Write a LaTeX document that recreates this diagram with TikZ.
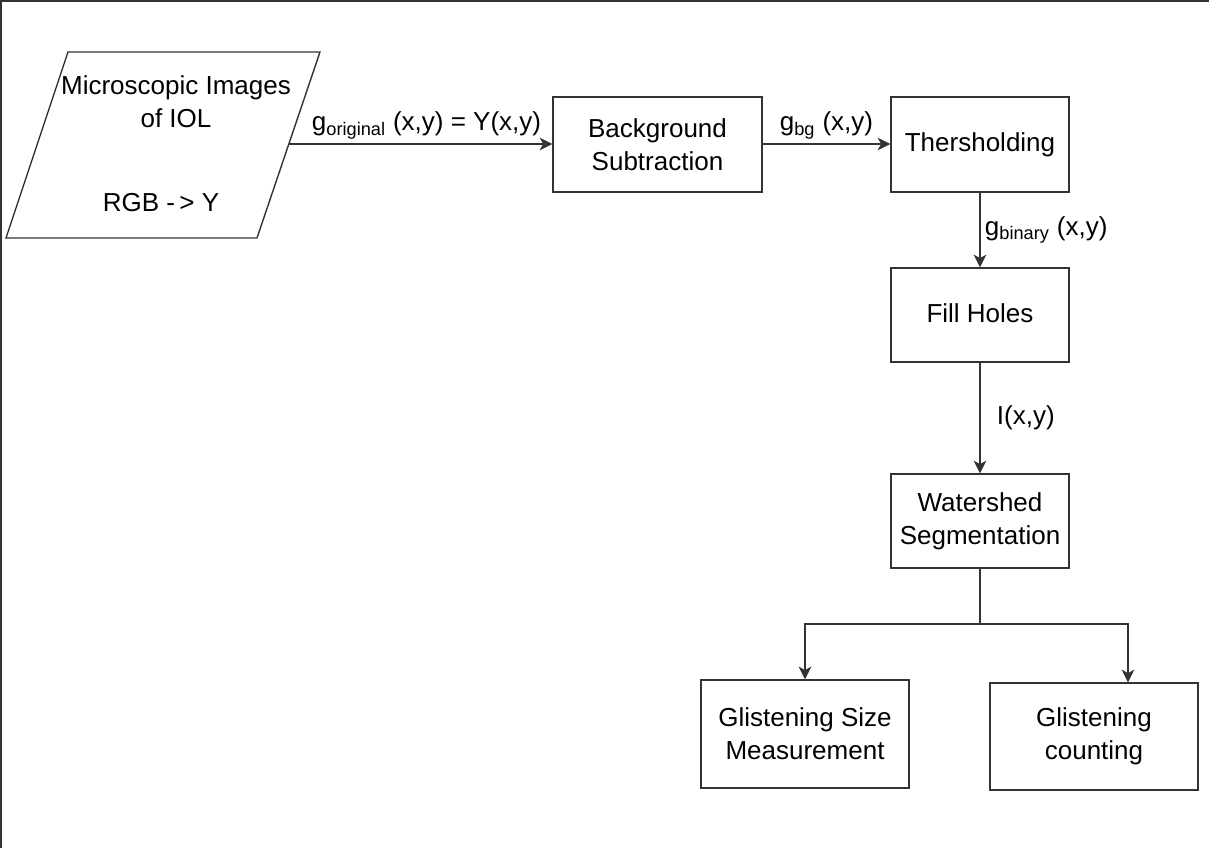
\documentclass[tikz,border=0pt]{standalone}
\usepackage{fontspec}
\setmainfont{Liberation Sans}
\usetikzlibrary{arrows.meta}
\begin{document}
\begin{tikzpicture}[
  font=\fontsize{18.5}{23.5}\selectfont,
  line width=1pt,
  box/.style={draw=black!80, align=center, inner sep=0pt},
  lbl/.style={inner sep=3pt},
  arr/.style={draw=black!80, -{Stealth[length=9pt,width=9pt,inset=2.5pt]}},
  ln/.style={draw=black!80},
]
\useasboundingbox (0,0) rectangle (30.225,21.2);
% frame lines along the top and left edge
\draw[ln, line width=1.4pt] (0.02,0) -- (0.02,21.18) -- (30.225,21.18);

% input
\draw[ln] (1.7,19.9) -- (8.0,19.9) -- (6.425,15.25) -- (0.15,15.25) -- cycle;
\node[align=center] (img) at (4.4,18.66) {Microscopic Images\\of IOL};
\node (rgb) at (4.025,16.125) {RGB {-}\,{>} Y};
\coordinate (imgout) at (7.22,17.6);

% processing steps
\node[box, minimum width=5.225cm, minimum height=2.375cm] (bg) at (16.4375,17.5875) {Background\\Subtraction};
\node[box, minimum width=4.45cm, minimum height=2.375cm] (thr) at (24.5,17.5875) {Thersholding};
\node[box, minimum width=4.45cm, minimum height=2.35cm] (fill) at (24.5,13.325) {\raisebox{3pt}{Fill Holes}};
\node[box, minimum width=4.45cm, minimum height=2.35cm] (wat) at (24.5,8.175) {Watershed\\Segmentation};
\node[box, minimum width=5.2cm, minimum height=2.7cm] (size) at (20.125,2.85) {Glistening Size\\Measurement};
\node[box, minimum width=5.2cm, minimum height=2.675cm] (cnt) at (27.35,2.7875) {Glistening\\counting};

\draw[arr] (imgout) -- (imgout -| bg.west) node[lbl, above, midway, xshift=0.15cm] {g\textsubscript{original} (x,y) = Y(x,y)};
\draw[arr] (bg.east |- imgout) -- (imgout -| thr.west) node[lbl, above, midway] {g\textsubscript{bg} (x,y)};
\draw[arr] (thr) -- (fill) node[lbl, right, midway] {g\textsubscript{binary} (x,y)};
\draw[arr] (fill) -- (wat) node[lbl, right, midway, xshift=0.3cm] {I(x,y)};

% split to the two measurements
\coordinate (fork) at (24.5,5.6);
\draw[ln] (wat.south) -- (fork);
\draw[arr] (fork) -| (size.north);
\draw[arr] (fork) -| ([xshift=0.85cm]cnt.north);
\end{tikzpicture}
\end{document}
